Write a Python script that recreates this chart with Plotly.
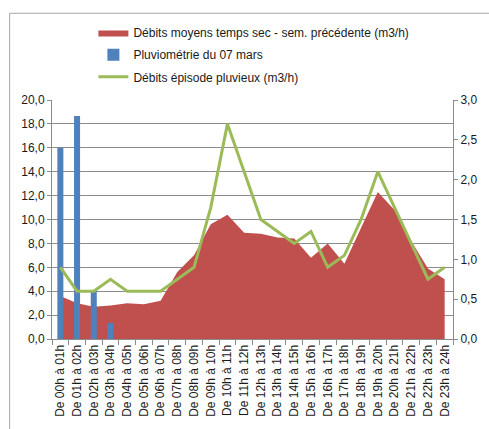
import plotly.graph_objects as go

# Hourly slots
heures = [
    "De 00h à 01h", "De 01h à 02h", "De 02h à 03h", "De 03h à 04h",
    "De 04h à 05h", "De 05h à 06h", "De 06h à 07h", "De 07h à 08h",
    "De 08h à 09h", "De 09h à 10h", "De 10h à 11h", "De 11h à 12h",
    "De 12h à 13h", "De 13h à 14h", "De 14h à 15h", "De 15h à 16h",
    "De 16h à 17h", "De 17h à 18h", "De 18h à 19h", "De 19h à 20h",
    "De 20h à 21h", "De 21h à 22h", "De 22h à 23h", "De 23h à 24h",
]

# Dry-weather mean flow, previous week (m3/h) - left axis
debits_sec = [3.6, 3.0, 2.7, 2.8, 3.0, 2.9, 3.2, 5.6, 7.0, 9.6, 10.4, 8.9,
              8.8, 8.5, 8.4, 6.8, 8.0, 6.3, 9.3, 12.3, 10.8, 8.2, 5.9, 5.0]

# Rainfall on 7 March (mm) - right axis
pluvio_heures = ["De 00h à 01h", "De 01h à 02h", "De 02h à 03h", "De 03h à 04h"]
pluvio = [2.4, 2.8, 0.6, 0.2]

# Flow during the rain event (m3/h) - left axis
debits_pluie = [6, 4, 4, 5, 4, 4, 4, 5, 6, 11, 18, 14,
                10, 9, 8, 9, 6, 7, 10, 14, 11, 8, 5, 6]

FONT = "Liberation Sans"
GRID = "#8c8c8c"
TXT = "#1a1a1a"

W, H = 489, 429
L, R, T, B = 52, 30, 100, 81
PW, PH = W - L - R, H - T - B


def px_x(p):
    return (p - L) / PW


def px_y(p):
    return (H - B - p) / PH


fig = go.Figure()

fig.add_trace(go.Scatter(
    x=heures, y=debits_sec, mode="lines", fill="tozeroy",
    fillcolor="#C0504D", line=dict(color="#C0504D", width=0),
    name="Débits moyens temps sec - sem. précédente (m3/h)",
    yaxis="y", legend="legend",
))

fig.add_trace(go.Bar(
    x=pluvio_heures, y=pluvio, width=0.36, marker=dict(color="#4F81BD", line=dict(width=0)),
    name="Pluviométrie du 07 mars", yaxis="y2", legend="legend2",
))

fig.add_trace(go.Scatter(
    x=heures, y=debits_pluie, mode="lines",
    line=dict(color="#9BBB59", width=3),
    name="Débits épisode pluvieux (m3/h)",
    yaxis="y3", legend="legend3",
))

leg_common = dict(
    xanchor="left", yanchor="middle", bgcolor="rgba(0,0,0,0)",
    font=dict(family=FONT, size=12, color=TXT), itemwidth=30,
)

fig.update_layout(
    width=W, height=H,
    margin=dict(l=L, r=R, t=T, b=B, pad=0),
    paper_bgcolor="white", plot_bgcolor="white",
    separators=", ",
    font=dict(family=FONT, size=12, color=TXT),
    showlegend=True,
    legend=dict(x=px_x(94), y=px_y(30), **leg_common),
    legend2=dict(x=px_x(94), y=px_y(53), **leg_common),
    legend3=dict(x=px_x(94), y=px_y(76), **leg_common),
    xaxis=dict(
        type="category", categoryorder="array", categoryarray=heures,
        range=[-0.5, 23.5], tickangle=-90, tickson="boundaries",
        ticks="outside", ticklen=5, tickcolor=GRID,
        showline=True, linecolor=GRID, linewidth=1,
        showgrid=False, tickfont=dict(family=FONT, size=12, color=TXT),
    ),
    yaxis=dict(
        range=[0, 20], tickmode="linear", tick0=0, dtick=2, tickformat=".1f",
        showgrid=True, gridcolor=GRID, gridwidth=1,
        showline=True, linecolor=GRID, linewidth=1,
        ticks="outside", ticklen=4, tickcolor=GRID,
        zeroline=False, tickfont=dict(family=FONT, size=12, color=TXT),
    ),
    yaxis2=dict(
        range=[0, 3], tickmode="linear", tick0=0, dtick=0.5, tickformat=".1f",
        overlaying="y", side="right", showgrid=False,
        showline=True, linecolor=GRID, linewidth=1,
        ticks="outside", ticklen=4, tickcolor=GRID,
        zeroline=False, tickfont=dict(family=FONT, size=12, color=TXT),
    ),
    yaxis3=dict(
        range=[0, 20], overlaying="y", visible=False, showgrid=False,
    ),
    shapes=[dict(
        type="rect", xref="paper", yref="paper",
        x0=px_x(9), x1=px_x(520), y0=px_y(460), y1=px_y(10),
        line=dict(color="#a6a6a6", width=1), fillcolor="rgba(0,0,0,0)",
        layer="below",
    )],
)

fig.write_html("out.html")
